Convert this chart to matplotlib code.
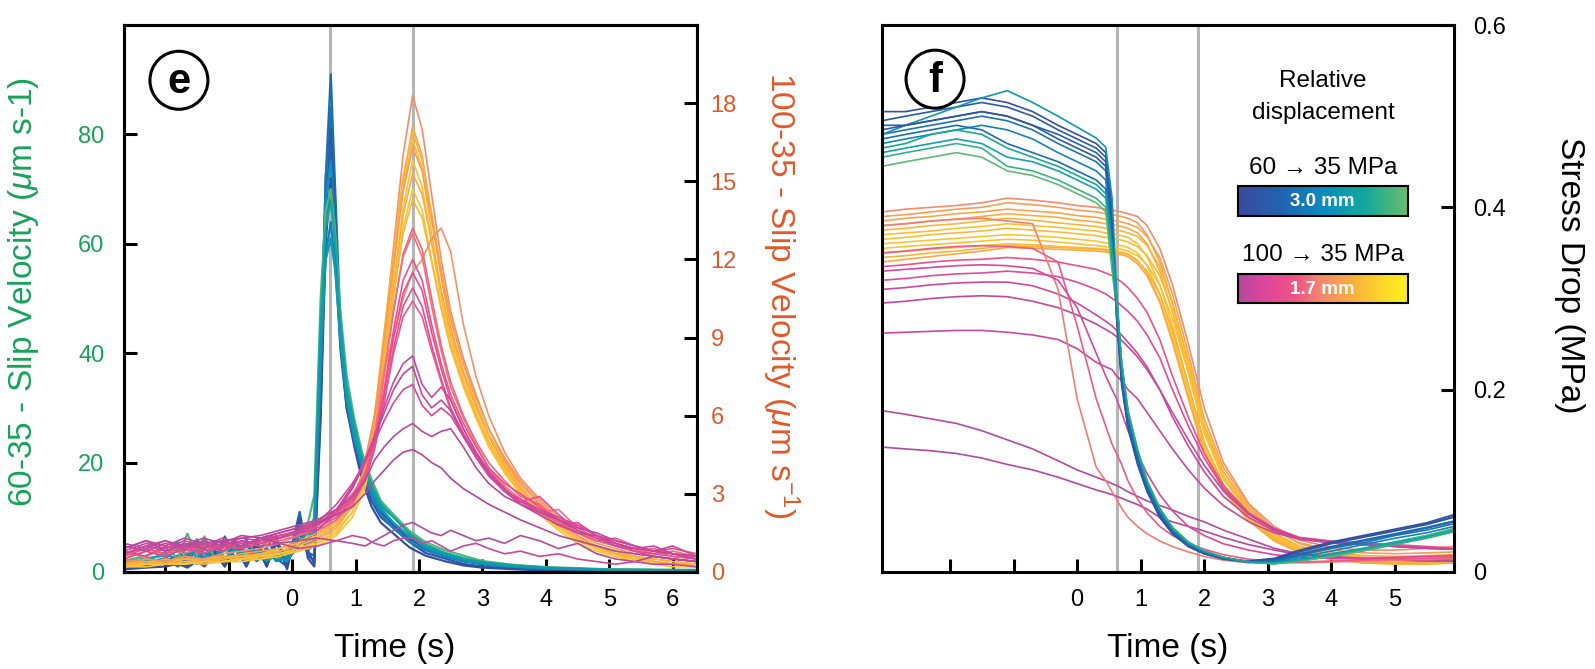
import numpy as np
import matplotlib
matplotlib.use('Agg')
import matplotlib.pyplot as plt
from matplotlib.colors import LinearSegmentedColormap
from matplotlib.patches import Ellipse

plt.rcParams['font.family'] = ['Liberation Sans', 'DejaVu Sans']
plt.rcParams['mathtext.fontset'] = 'custom'
plt.rcParams['mathtext.rm'] = 'Liberation Sans'
plt.rcParams['mathtext.it'] = 'Liberation Sans:italic'

# ===== colour scales (relative displacement) =====
cmap_bg = LinearSegmentedColormap.from_list(
    'bg', ['#3a4a9e', '#2264b0', '#0a8cc0', '#14a99b', '#6bbf68'])
cmap_py = LinearSegmentedColormap.from_list(
    'py', ['#b3489e', '#e0479b', '#ef5485', '#f58c6c', '#fbae3c', '#fdd52a', '#fff21c'])

# ===== panel e: 60 -> 35 MPa slip velocity (um/s, left axis) =====
t60 = [-2.65, -2.3, -2.0, -1.8, -1.65, -1.5, -1.38, -1.22, -1.06, -0.9, -0.72, -0.56, -0.4,
       -0.25, -0.08, 0.12, 0.25, 0.35, 0.45, 0.53, 0.61, 0.68, 0.76, 0.86, 0.98, 1.1, 1.25,
       1.4, 1.6, 1.85, 2.1, 2.4, 2.7, 3.0, 3.5, 4.0, 5.0, 6.38]
vel60 = [
    [1.0, 1.5, 2.0, 1.5, 3.0, 1.5, 3.5, 2.0, 6.5, 2.5, 6.0, 2.0, 6.5, 2.5, 1.0, 11.0, 3.0, 2.0, 35, 72, 91, 70, 46, 33, 26, 20, 15, 11.5, 9.0, 6.0, 4.5, 3.2, 2.2, 1.6, 1.0, 0.6, 0.4, 0.3],
    [0.8, 1.2, 2.5, 1.0, 2.5, 4.0, 2.0, 5.5, 2.0, 5.0, 1.5, 5.5, 2.0, 5.0, 3.0, 8.0, 5.0, 6.0, 40, 72, 85, 66, 44, 32, 24, 19, 14, 10.5, 8.5, 6.5, 4.0, 3.5, 2.0, 1.5, 1.0, 0.7, 0.3, 0.2],
    [1.2, 1.0, 1.5, 2.0, 1.0, 3.0, 1.5, 4.0, 1.0, 5.5, 1.0, 6.0, 1.5, 6.5, 1.0, 9.0, 4.0, 1.5, 30, 65, 81, 64, 42, 31, 25, 18, 13, 10, 8.0, 5.5, 3.5, 2.5, 1.5, 1.0, 0.6, 0.3, 0.2, 0.2],
    [0.6, 1.0, 2.0, 3.0, 1.5, 4.5, 2.0, 4.0, 1.5, 6.0, 2.0, 5.0, 1.0, 5.5, 2.0, 7.0, 3.5, 3.0, 38, 66, 78, 62, 43, 30, 24, 20, 15, 11, 8.5, 6.0, 4.5, 3.0, 2.0, 1.5, 0.8, 0.5, 0.3, 0.2],
    [1.5, 2.0, 3.5, 2.0, 5.0, 2.5, 6.0, 3.0, 5.0, 2.0, 4.0, 2.5, 4.0, 2.0, 3.0, 6.0, 5.0, 8.0, 45, 68, 75, 62, 45, 33, 26, 21, 16, 12, 10, 7.0, 5.0, 3.5, 2.5, 1.8, 1.2, 0.8, 0.4, 0.3],
    [0.5, 0.8, 1.0, 1.5, 0.8, 2.0, 1.0, 3.5, 1.0, 4.5, 1.0, 5.0, 1.0, 6.0, 0.5, 10.0, 2.5, 1.0, 28, 60, 72, 60, 41, 30, 23, 17, 12, 9.0, 7.0, 4.5, 3.0, 2.0, 1.2, 0.8, 0.5, 0.3, 0.2, 0.2],
    [2.0, 3.0, 4.5, 2.5, 7.0, 3.0, 6.5, 2.5, 4.0, 2.0, 3.5, 2.0, 3.0, 2.5, 4.0, 7.0, 9.0, 14, 50, 66, 70, 62, 48, 36, 28, 22, 17, 13, 10.5, 7.5, 5.5, 4.0, 3.0, 2.0, 1.3, 0.9, 0.5, 0.4],
    [1.8, 2.5, 3.0, 5.5, 2.5, 6.0, 2.0, 5.0, 2.0, 4.0, 2.5, 3.5, 2.0, 3.5, 3.0, 6.0, 7.0, 10, 46, 63, 68, 60, 46, 34, 27, 21, 16, 12.5, 10, 7.0, 5.0, 3.5, 2.5, 1.8, 1.2, 0.8, 0.4, 0.3],
    [1.0, 1.5, 2.5, 1.5, 3.5, 1.5, 4.5, 2.0, 5.5, 2.0, 5.0, 2.0, 4.5, 2.0, 2.5, 8.0, 4.0, 5.0, 36, 58, 64, 56, 42, 31, 24, 19, 14, 10.5, 8.0, 5.5, 4.0, 2.8, 2.0, 1.4, 0.9, 0.6, 0.3, 0.2],
    [1.2, 1.8, 2.5, 4.0, 2.0, 5.0, 2.5, 5.5, 2.5, 4.5, 2.0, 4.0, 2.0, 3.0, 2.0, 5.0, 6.0, 9.0, 42, 57, 61, 55, 43, 32, 25, 20, 15, 11.5, 9.0, 6.5, 4.5, 3.2, 2.3, 1.6, 1.0, 0.7, 0.4, 0.3],
]
col60 = [0.3, 0.35, 0.1, 0.2, 0.55, 0.05, 0.92, 0.72, 0.45, 0.62]

# ===== panel e: 100 -> 35 MPa slip velocity (um/s, right axis) =====
t100 = [-2.65, -2.3, -2.0, -1.7, -1.4, -1.1, -0.8, -0.5, -0.2, 0.1, 0.4, 0.7, 0.95, 1.15,
        1.3, 1.45, 1.6, 1.75, 1.9, 2.05, 2.2, 2.35, 2.5, 2.7, 2.9, 3.1, 3.35, 3.6, 3.9, 4.2,
        4.5, 4.8, 5.1, 5.4, 5.7, 6.0, 6.38]
vel100 = [
    [0.3, 0.4, 0.3, 0.5, 0.4, 0.5, 0.6, 0.6, 0.8, 1.0, 1.3, 1.8, 2.6, 3.8, 5.8, 9.0, 12.5, 16.0, 18.3, 17.0, 14.5, 12.0, 10.0, 8.2, 6.8, 5.5, 4.3, 3.4, 2.6, 1.9, 1.4, 1.0, 0.8, 0.6, 0.5, 0.4, 0.3],
    [0.2, 0.3, 0.4, 0.3, 0.5, 0.4, 0.5, 0.7, 0.7, 0.9, 1.2, 1.7, 2.5, 3.6, 5.5, 8.5, 11.8, 15.0, 17.1, 16.0, 13.6, 11.3, 9.4, 7.7, 6.4, 5.2, 4.1, 3.2, 2.5, 1.8, 1.3, 1.0, 0.7, 0.5, 0.4, 0.3, 0.2],
    [0.4, 0.3, 0.5, 0.4, 0.4, 0.6, 0.5, 0.6, 0.9, 1.1, 1.4, 2.0, 2.8, 4.0, 6.0, 9.2, 12.3, 15.2, 16.9, 15.8, 13.8, 11.6, 9.8, 8.0, 6.5, 5.3, 4.2, 3.3, 2.4, 1.8, 1.3, 0.9, 0.7, 0.6, 0.4, 0.3, 0.3],
    [0.2, 0.3, 0.3, 0.4, 0.3, 0.4, 0.5, 0.5, 0.7, 0.8, 1.1, 1.5, 2.3, 3.4, 5.2, 8.3, 11.6, 14.8, 16.6, 15.5, 13.0, 10.8, 9.0, 7.4, 6.1, 5.0, 3.9, 3.0, 2.3, 1.7, 1.2, 0.9, 0.6, 0.5, 0.4, 0.3, 0.2],
    [0.3, 0.5, 0.4, 0.6, 0.5, 0.5, 0.7, 0.8, 0.9, 1.2, 1.5, 2.0, 2.8, 4.0, 6.0, 8.9, 11.8, 14.6, 16.3, 15.4, 13.5, 11.5, 9.7, 8.0, 6.7, 5.5, 4.4, 3.5, 2.7, 2.0, 1.5, 1.1, 0.9, 0.7, 0.6, 0.5, 0.4],
    [0.2, 0.2, 0.3, 0.3, 0.4, 0.4, 0.4, 0.5, 0.6, 0.8, 1.0, 1.4, 2.1, 3.2, 5.0, 7.8, 11.0, 14.0, 15.8, 14.8, 12.6, 10.5, 8.8, 7.2, 6.0, 4.9, 3.8, 3.0, 2.2, 1.6, 1.1, 0.8, 0.6, 0.4, 0.3, 0.2, 0.2],
    [0.3, 0.3, 0.4, 0.5, 0.4, 0.5, 0.6, 0.6, 0.8, 1.0, 1.3, 1.8, 2.5, 3.6, 5.4, 8.2, 11.0, 13.7, 15.3, 14.5, 12.7, 10.8, 9.2, 7.6, 6.3, 5.2, 4.1, 3.2, 2.5, 1.8, 1.3, 1.0, 0.7, 0.6, 0.4, 0.3, 0.3],
    [0.2, 0.3, 0.3, 0.3, 0.4, 0.4, 0.5, 0.6, 0.7, 0.9, 1.1, 1.6, 2.3, 3.4, 5.2, 7.9, 10.6, 13.2, 14.7, 13.9, 12.0, 10.2, 8.6, 7.1, 5.9, 4.8, 3.8, 3.0, 2.3, 1.7, 1.2, 0.9, 0.6, 0.5, 0.3, 0.3, 0.2],
    [0.3, 0.4, 0.4, 0.5, 0.5, 0.6, 0.6, 0.7, 0.9, 1.1, 1.4, 1.9, 2.6, 3.7, 5.5, 8.0, 10.6, 13.0, 14.3, 13.6, 11.9, 10.1, 8.6, 7.2, 6.0, 5.0, 4.0, 3.1, 2.4, 1.8, 1.3, 1.0, 0.8, 0.6, 0.5, 0.4, 0.3],
    [0.4, 0.5, 0.4, 0.6, 0.5, 0.7, 0.8, 0.9, 1.1, 1.4, 1.8, 2.4, 3.2, 4.3, 6.0, 7.8, 9.0, 10.5, 11.5, 12.0, 12.8, 13.2, 12.3, 9.5, 7.5, 6.0, 4.6, 3.6, 2.8, 2.1, 1.6, 1.2, 1.0, 0.8, 0.6, 0.5, 0.4],
    [0.5, 0.8, 0.6, 0.9, 0.7, 1.0, 0.9, 1.1, 1.2, 1.4, 1.6, 2.0, 2.6, 3.5, 5.0, 7.5, 10.0, 12.2, 13.2, 12.4, 10.5, 8.7, 7.3, 6.0, 5.0, 4.2, 3.5, 2.9, 2.6, 2.0, 1.5, 1.2, 1.0, 0.8, 0.9, 0.7, 0.5],
    [0.7, 0.6, 0.9, 0.7, 1.0, 0.8, 1.1, 1.0, 1.3, 1.5, 1.8, 2.2, 2.9, 3.8, 5.3, 7.6, 10.1, 12.1, 13.0, 12.1, 10.2, 8.5, 7.1, 5.9, 4.9, 4.0, 3.3, 2.8, 2.3, 2.4, 1.7, 1.3, 1.0, 0.9, 0.7, 0.8, 0.6],
    [0.6, 0.9, 0.7, 1.0, 0.8, 1.1, 1.0, 1.2, 1.4, 1.6, 1.9, 2.3, 2.9, 3.7, 5.0, 7.0, 9.3, 11.2, 12.0, 11.2, 9.5, 8.0, 6.8, 5.7, 4.8, 4.0, 3.4, 3.0, 2.5, 2.0, 1.8, 1.4, 1.1, 0.9, 0.8, 0.9, 0.7],
    [0.8, 0.6, 1.0, 0.8, 1.1, 0.9, 1.2, 1.1, 1.3, 1.5, 1.8, 2.2, 2.8, 3.6, 4.9, 6.8, 9.0, 10.7, 11.5, 10.8, 9.2, 7.8, 6.6, 5.5, 4.6, 3.8, 3.2, 2.7, 2.9, 2.2, 1.6, 1.3, 1.1, 0.8, 0.7, 0.6, 0.5],
    [0.5, 0.8, 0.6, 0.9, 0.7, 1.0, 0.9, 1.1, 1.3, 1.5, 1.7, 2.1, 2.7, 3.5, 4.7, 6.5, 8.6, 10.2, 10.9, 10.2, 8.7, 7.4, 6.3, 5.3, 4.4, 3.7, 3.1, 2.6, 2.2, 1.8, 1.9, 1.4, 1.0, 0.8, 0.6, 0.5, 0.4],
    [0.7, 0.9, 0.7, 1.1, 0.9, 1.2, 1.0, 1.3, 1.5, 1.7, 2.0, 2.4, 3.0, 3.7, 4.8, 6.5, 8.4, 9.8, 10.4, 9.8, 8.5, 7.3, 6.2, 5.2, 4.4, 3.7, 3.1, 2.7, 2.3, 1.9, 1.5, 1.2, 1.3, 1.0, 0.8, 0.6, 0.5],
    [0.8, 1.1, 0.9, 1.2, 1.0, 1.3, 1.1, 1.2, 1.4, 1.5, 1.6, 2.3, 3.2, 4.2, 5.2, 6.3, 7.3, 8.0, 8.3, 7.2, 6.7, 7.1, 6.6, 5.5, 4.6, 3.9, 3.2, 2.7, 2.4, 2.0, 1.6, 1.3, 1.0, 0.9, 0.8, 1.0, 0.6],
    [1.0, 0.8, 1.1, 0.9, 1.2, 1.0, 1.3, 1.2, 1.3, 1.6, 1.8, 2.4, 3.3, 4.3, 5.2, 6.1, 7.0, 7.6, 7.9, 6.8, 6.3, 6.6, 6.2, 5.3, 4.5, 3.8, 3.1, 2.6, 2.2, 1.8, 1.5, 1.4, 1.1, 0.9, 1.0, 0.7, 0.5],
    [0.7, 1.0, 0.8, 1.1, 0.9, 1.2, 1.0, 1.3, 1.4, 1.5, 1.9, 2.6, 3.4, 4.2, 5.0, 5.8, 6.5, 7.0, 7.2, 6.4, 6.0, 6.3, 6.0, 5.2, 4.4, 3.7, 3.1, 2.8, 2.4, 2.1, 1.8, 1.4, 1.2, 1.0, 0.8, 0.7, 0.6],
    [0.9, 1.2, 1.0, 1.3, 1.1, 1.2, 1.3, 1.4, 1.6, 1.8, 2.0, 2.4, 2.9, 3.5, 4.3, 4.8, 5.2, 5.5, 5.7, 5.4, 5.2, 5.4, 5.5, 4.8, 4.0, 3.4, 2.9, 2.6, 2.3, 2.0, 1.7, 1.5, 1.2, 1.0, 0.8, 0.7, 0.6],
    [1.1, 0.9, 1.2, 1.0, 1.3, 1.1, 1.4, 1.3, 1.5, 1.7, 1.9, 2.2, 2.5, 3.0, 3.5, 3.9, 4.3, 4.6, 4.7, 4.5, 4.2, 4.0, 3.6, 3.2, 2.9, 2.6, 2.3, 2.0, 1.7, 1.4, 1.2, 1.0, 0.8, 0.7, 0.6, 0.5, 0.4],
    [0.9, 1.2, 0.8, 1.1, 0.9, 1.2, 1.0, 1.3, 1.1, 1.2, 1.3, 1.2, 1.1, 1.0, 1.2, 1.4, 1.6, 1.8, 1.9, 1.7, 1.5, 1.4, 1.6, 1.4, 1.2, 1.3, 1.1, 1.4, 1.2, 0.9, 1.1, 0.7, 0.5, 0.4, 0.6, 0.5, 0.4],
    [0.7, 1.0, 1.2, 0.9, 1.1, 0.8, 1.2, 1.0, 1.1, 0.9, 1.0, 1.2, 1.4, 1.3, 1.1, 1.0, 1.2, 1.3, 1.3, 1.1, 1.2, 1.0, 0.8, 1.0, 1.1, 0.9, 0.7, 0.8, 0.6, 0.7, 0.5, 0.4, 0.3, 0.4, 0.3, 0.3, 0.2],
]
col100 = [0.5, 0.62, 0.68, 0.72, 0.58, 0.75, 0.66, 0.76, 0.7, 0.52, 0.38, 0.42, 0.3, 0.26,
          0.22, 0.34, 0.1, 0.06, 0.14, 0.04, 0.0, 0.02, 0.08]

# ===== panel f: stress drop (MPa) =====
tsd = [-3.07, -2.7, -2.3, -1.9, -1.5, -1.1, -0.7, -0.3, 0.0, 0.3, 0.45, 0.55, 0.62, 0.7, 0.8,
       0.95, 1.1, 1.3, 1.5, 1.75, 2.0, 2.3, 2.7, 3.1, 3.5, 4.0, 4.5, 5.0, 5.5, 5.93]
sd60 = [
    [0.505, 0.505, 0.51, 0.515, 0.52, 0.515, 0.505, 0.49, 0.48, 0.47, 0.46, 0.40, 0.29, 0.21, 0.16, 0.12, 0.09, 0.062, 0.043, 0.028, 0.02, 0.015, 0.012, 0.015, 0.024, 0.033, 0.04, 0.047, 0.054, 0.063],
    [0.495, 0.50, 0.505, 0.51, 0.515, 0.51, 0.50, 0.485, 0.475, 0.465, 0.455, 0.39, 0.28, 0.21, 0.16, 0.12, 0.09, 0.06, 0.042, 0.028, 0.02, 0.015, 0.011, 0.013, 0.022, 0.031, 0.038, 0.045, 0.052, 0.06],
    [0.49, 0.49, 0.495, 0.50, 0.505, 0.50, 0.49, 0.48, 0.47, 0.46, 0.45, 0.38, 0.29, 0.215, 0.165, 0.125, 0.093, 0.064, 0.045, 0.03, 0.021, 0.015, 0.011, 0.012, 0.02, 0.028, 0.035, 0.042, 0.049, 0.056],
    [0.48, 0.485, 0.49, 0.495, 0.50, 0.495, 0.485, 0.47, 0.46, 0.45, 0.44, 0.37, 0.30, 0.22, 0.17, 0.128, 0.095, 0.066, 0.046, 0.031, 0.022, 0.016, 0.011, 0.011, 0.018, 0.026, 0.032, 0.04, 0.046, 0.053],
    [0.48, 0.49, 0.50, 0.51, 0.52, 0.528, 0.515, 0.50, 0.488, 0.476, 0.466, 0.41, 0.31, 0.225, 0.172, 0.13, 0.097, 0.067, 0.047, 0.031, 0.022, 0.016, 0.011, 0.01, 0.014, 0.02, 0.026, 0.033, 0.04, 0.047],
    [0.485, 0.49, 0.495, 0.50, 0.505, 0.50, 0.49, 0.475, 0.465, 0.455, 0.445, 0.38, 0.28, 0.205, 0.158, 0.118, 0.088, 0.06, 0.042, 0.028, 0.02, 0.014, 0.011, 0.014, 0.023, 0.032, 0.039, 0.046, 0.053, 0.061],
    [0.47, 0.475, 0.48, 0.485, 0.49, 0.485, 0.475, 0.46, 0.45, 0.44, 0.43, 0.36, 0.30, 0.225, 0.172, 0.13, 0.097, 0.067, 0.047, 0.031, 0.022, 0.016, 0.011, 0.01, 0.016, 0.023, 0.03, 0.037, 0.043, 0.05],
    [0.46, 0.465, 0.47, 0.475, 0.47, 0.455, 0.45, 0.44, 0.43, 0.42, 0.41, 0.35, 0.30, 0.23, 0.175, 0.133, 0.1, 0.069, 0.048, 0.032, 0.023, 0.016, 0.011, 0.009, 0.013, 0.018, 0.024, 0.031, 0.038, 0.045],
    [0.455, 0.46, 0.465, 0.47, 0.465, 0.445, 0.44, 0.43, 0.42, 0.41, 0.40, 0.34, 0.30, 0.23, 0.178, 0.135, 0.1, 0.07, 0.049, 0.033, 0.023, 0.016, 0.011, 0.009, 0.012, 0.017, 0.023, 0.03, 0.037, 0.044],
    [0.445, 0.45, 0.455, 0.46, 0.455, 0.44, 0.435, 0.425, 0.415, 0.405, 0.395, 0.33, 0.29, 0.228, 0.176, 0.134, 0.1, 0.07, 0.049, 0.033, 0.023, 0.016, 0.011, 0.009, 0.012, 0.017, 0.024, 0.032, 0.04, 0.048],
    [0.475, 0.48, 0.485, 0.49, 0.485, 0.47, 0.46, 0.45, 0.44, 0.43, 0.42, 0.35, 0.29, 0.218, 0.168, 0.127, 0.094, 0.065, 0.045, 0.03, 0.021, 0.015, 0.011, 0.012, 0.019, 0.027, 0.034, 0.041, 0.048, 0.055],
    [0.465, 0.47, 0.48, 0.485, 0.48, 0.465, 0.455, 0.445, 0.435, 0.425, 0.415, 0.35, 0.30, 0.228, 0.175, 0.133, 0.099, 0.069, 0.048, 0.032, 0.023, 0.016, 0.011, 0.01, 0.013, 0.019, 0.025, 0.032, 0.039, 0.046],
]
colsd60 = [0.05, 0.15, 0.25, 0.35, 0.6, 0.1, 0.45, 0.7, 0.85, 0.95, 0.3, 0.75]

sd100 = [
    [0.395, 0.398, 0.40, 0.402, 0.405, 0.41, 0.408, 0.405, 0.402, 0.40, 0.398, 0.397, 0.396, 0.395, 0.393, 0.39, 0.38, 0.355, 0.315, 0.25, 0.18, 0.12, 0.075, 0.05, 0.035, 0.027, 0.024, 0.024, 0.026, 0.028],
    [0.39, 0.392, 0.395, 0.398, 0.40, 0.405, 0.403, 0.40, 0.397, 0.395, 0.393, 0.392, 0.391, 0.39, 0.388, 0.383, 0.37, 0.34, 0.295, 0.23, 0.16, 0.11, 0.07, 0.046, 0.032, 0.024, 0.021, 0.02, 0.021, 0.022],
    [0.385, 0.388, 0.39, 0.393, 0.395, 0.398, 0.396, 0.394, 0.391, 0.389, 0.387, 0.386, 0.385, 0.384, 0.382, 0.378, 0.368, 0.345, 0.305, 0.24, 0.168, 0.115, 0.073, 0.047, 0.031, 0.022, 0.018, 0.017, 0.018, 0.019],
    [0.38, 0.382, 0.385, 0.387, 0.39, 0.393, 0.391, 0.389, 0.386, 0.384, 0.382, 0.381, 0.38, 0.379, 0.377, 0.372, 0.36, 0.33, 0.285, 0.22, 0.155, 0.105, 0.066, 0.042, 0.028, 0.02, 0.016, 0.015, 0.016, 0.017],
    [0.375, 0.377, 0.38, 0.382, 0.385, 0.388, 0.386, 0.383, 0.381, 0.379, 0.377, 0.376, 0.375, 0.374, 0.372, 0.368, 0.358, 0.335, 0.295, 0.232, 0.162, 0.11, 0.068, 0.043, 0.028, 0.019, 0.015, 0.014, 0.014, 0.015],
    [0.37, 0.372, 0.374, 0.377, 0.379, 0.382, 0.38, 0.378, 0.376, 0.374, 0.372, 0.371, 0.37, 0.369, 0.367, 0.36, 0.346, 0.315, 0.27, 0.205, 0.142, 0.096, 0.06, 0.038, 0.025, 0.017, 0.013, 0.012, 0.012, 0.013],
    [0.365, 0.367, 0.37, 0.372, 0.374, 0.377, 0.375, 0.373, 0.371, 0.369, 0.367, 0.366, 0.365, 0.364, 0.362, 0.357, 0.347, 0.325, 0.287, 0.225, 0.157, 0.105, 0.066, 0.041, 0.026, 0.017, 0.012, 0.011, 0.011, 0.012],
    [0.36, 0.362, 0.364, 0.366, 0.368, 0.37, 0.369, 0.367, 0.365, 0.363, 0.361, 0.36, 0.359, 0.358, 0.356, 0.35, 0.336, 0.305, 0.26, 0.198, 0.137, 0.092, 0.058, 0.036, 0.023, 0.015, 0.011, 0.01, 0.01, 0.011],
    [0.355, 0.357, 0.359, 0.361, 0.363, 0.365, 0.364, 0.362, 0.36, 0.358, 0.357, 0.356, 0.355, 0.354, 0.352, 0.347, 0.337, 0.315, 0.278, 0.218, 0.152, 0.102, 0.064, 0.039, 0.024, 0.015, 0.01, 0.009, 0.009, 0.01],
    [0.35, 0.352, 0.354, 0.356, 0.358, 0.36, 0.359, 0.357, 0.356, 0.355, 0.354, 0.353, 0.352, 0.351, 0.349, 0.342, 0.328, 0.298, 0.254, 0.193, 0.133, 0.09, 0.057, 0.035, 0.022, 0.014, 0.01, 0.009, 0.009, 0.01],
    [0.345, 0.347, 0.35, 0.352, 0.355, 0.358, 0.357, 0.356, 0.355, 0.354, 0.353, 0.352, 0.351, 0.35, 0.348, 0.341, 0.33, 0.305, 0.265, 0.205, 0.142, 0.096, 0.06, 0.037, 0.023, 0.015, 0.011, 0.01, 0.01, 0.011],
    [0.34, 0.343, 0.346, 0.349, 0.352, 0.356, 0.355, 0.354, 0.353, 0.352, 0.351, 0.35, 0.349, 0.348, 0.346, 0.338, 0.325, 0.296, 0.252, 0.19, 0.131, 0.089, 0.056, 0.034, 0.021, 0.014, 0.01, 0.009, 0.009, 0.01],
    [0.335, 0.337, 0.34, 0.342, 0.343, 0.345, 0.343, 0.34, 0.336, 0.332, 0.328, 0.325, 0.322, 0.318, 0.312, 0.30, 0.285, 0.255, 0.215, 0.17, 0.13, 0.095, 0.065, 0.048, 0.038, 0.034, 0.032, 0.03, 0.028, 0.026],
    [0.32, 0.322, 0.325, 0.327, 0.328, 0.33, 0.328, 0.324, 0.318, 0.31, 0.305, 0.30, 0.297, 0.292, 0.286, 0.275, 0.26, 0.235, 0.20, 0.16, 0.125, 0.092, 0.064, 0.047, 0.037, 0.033, 0.031, 0.029, 0.027, 0.025],
    [0.31, 0.312, 0.315, 0.317, 0.318, 0.318, 0.314, 0.305, 0.295, 0.282, 0.275, 0.27, 0.265, 0.26, 0.252, 0.24, 0.225, 0.20, 0.17, 0.138, 0.11, 0.083, 0.06, 0.045, 0.036, 0.032, 0.03, 0.028, 0.026, 0.025],
    [0.295, 0.297, 0.30, 0.302, 0.303, 0.302, 0.297, 0.29, 0.282, 0.272, 0.266, 0.262, 0.258, 0.254, 0.247, 0.236, 0.222, 0.20, 0.175, 0.145, 0.117, 0.089, 0.063, 0.047, 0.037, 0.033, 0.03, 0.028, 0.026, 0.025],
    [0.262, 0.263, 0.264, 0.265, 0.265, 0.263, 0.26, 0.255, 0.245, 0.23, 0.225, 0.222, 0.215, 0.21, 0.20, 0.19, 0.175, 0.155, 0.135, 0.112, 0.092, 0.073, 0.055, 0.043, 0.036, 0.032, 0.03, 0.028, 0.026, 0.025],
    [0.177, 0.173, 0.168, 0.163, 0.155, 0.145, 0.135, 0.122, 0.112, 0.104, 0.10, 0.097, 0.095, 0.092, 0.088, 0.083, 0.078, 0.073, 0.068, 0.061, 0.055, 0.046, 0.036, 0.026, 0.02, 0.017, 0.015, 0.014, 0.014, 0.013],
    [0.137, 0.135, 0.133, 0.13, 0.125, 0.118, 0.112, 0.104, 0.097, 0.09, 0.087, 0.085, 0.083, 0.081, 0.078, 0.074, 0.069, 0.06, 0.055, 0.05, 0.045, 0.038, 0.03, 0.024, 0.019, 0.016, 0.014, 0.013, 0.012, 0.012],
    [0.38, 0.382, 0.385, 0.387, 0.388, 0.385, 0.382, 0.31, 0.19, 0.115, 0.10, 0.088, 0.08, 0.07, 0.06, 0.05, 0.042, 0.034, 0.028, 0.022, 0.017, 0.013, 0.01, 0.01, 0.01, 0.011, 0.012, 0.013, 0.014, 0.015],
    [0.35, 0.352, 0.355, 0.357, 0.358, 0.357, 0.355, 0.34, 0.27, 0.19, 0.16, 0.14, 0.13, 0.118, 0.10, 0.08, 0.065, 0.05, 0.04, 0.031, 0.025, 0.019, 0.014, 0.012, 0.011, 0.012, 0.013, 0.014, 0.015, 0.016],
    [0.33, 0.332, 0.334, 0.336, 0.337, 0.336, 0.333, 0.32, 0.29, 0.24, 0.215, 0.20, 0.19, 0.175, 0.155, 0.13, 0.108, 0.085, 0.067, 0.05, 0.04, 0.031, 0.024, 0.019, 0.016, 0.015, 0.015, 0.016, 0.017, 0.018],
]
colsd100 = [0.5, 0.58, 0.62, 0.66, 0.7, 0.74, 0.72, 0.76, 0.75, 0.73, 0.68, 0.64,
            0.3, 0.2, 0.1, 0.05, 0.08, 0.02, 0.0, 0.45, 0.35, 0.15]

green = '#17a25a'
orange = '#e1592b'
gray = '#b5b5b5'

fig = plt.figure(figsize=(15.95, 6.69), dpi=100)


def style_axes(ax):
    for s in ax.spines.values():
        s.set_linewidth(2.2)
    ax.tick_params(direction='in', length=9.5, width=2.2, labelsize=17)


# ===== panel e =====
axL = fig.add_axes([0.0777, 0.145, 0.3592, 0.8176])
axL2 = axL.twinx()
for v in (0.6, 1.9):
    axL.axvline(v, color=gray, lw=2.2, zorder=0)
for vals, c in zip(vel60, col60):
    axL.plot(t60, vals, color=cmap_bg(c), lw=1.6)
for vals, c in zip(vel100, col100):
    axL2.plot(t100, vals, color=cmap_py(c), lw=1.2)

axL.set_xlim(-2.65, 6.38)
axL.set_ylim(0, 100)
axL2.set_ylim(0, 21)
axL.set_xticks(range(-2, 7))
axL.set_xticklabels(['', ''] + [str(i) for i in range(0, 7)])
axL.set_yticks([0, 20, 40, 60, 80])
axL2.set_yticks([0, 3, 6, 9, 12, 15, 18])
style_axes(axL)
style_axes(axL2)
axL.tick_params(axis='x', pad=12)
axL.tick_params(axis='y', pad=14, labelcolor=green)
axL2.tick_params(axis='y', pad=10, labelcolor=orange)

fig.text(395 / 1595, 1 - 648 / 669, 'Time (s)', fontsize=24, ha='center', va='center')
fig.text(24 / 1595, 1 - 292 / 669, r'60-35 - Slip Velocity ($\mu$m s-1)', color=green,
         fontsize=24, rotation=90, ha='center', va='center')
fig.text(781 / 1595, 1 - 295 / 669, r'100-35 - Slip Velocity ($\mu$m s$^{-1}$)', color=orange,
         fontsize=24, rotation=270, ha='center', va='center')

# ===== panel f =====
axR = fig.add_axes([0.553, 0.145, 0.3586, 0.8176])
for v in (0.63, 1.9):
    axR.axvline(v, color=gray, lw=2.2, zorder=0)
for vals, c in zip(sd100, colsd100):
    axR.plot(tsd, vals, color=cmap_py(c), lw=1.2)
for vals, c in zip(sd60, colsd60):
    axR.plot(tsd, vals, color=cmap_bg(c), lw=1.2)

axR.set_xlim(-3.07, 5.93)
axR.set_ylim(0, 0.6)
axR.set_xticks(range(-2, 6))
axR.set_xticklabels(['', ''] + [str(i) for i in range(0, 6)])
axR.set_yticks([0, 0.2, 0.4, 0.6])
axR.set_yticklabels(['0', '0.2', '0.4', '0.6'])
axR.yaxis.tick_right()
style_axes(axR)
axR.tick_params(axis='x', pad=12)
axR.tick_params(axis='y', pad=14)

fig.text(1168 / 1595, 1 - 648 / 669, 'Time (s)', fontsize=24, ha='center', va='center')
fig.text(1570 / 1595, 1 - 275 / 669, 'Stress Drop (MPa)', fontsize=24, rotation=270,
         ha='center', va='center')

# ===== panel letters =====
for ax, (cx, cy), letter, w in [(axL, (0.096, 0.899), 'e', 573), (axR, (0.0927, 0.901), 'f', 572)]:
    ax.add_patch(Ellipse((cx, cy), 58 / w, 58 / 547, transform=ax.transAxes,
                         facecolor='white', edgecolor='black', lw=2.2, zorder=10))
    ax.text(cx, cy - 0.003, letter, transform=ax.transAxes, fontsize=30, fontweight='bold',
            ha='center', va='center', zorder=11)

# ===== legend (colour bars) =====
fig.text(0.8295, 1 - 81 / 669, 'Relative', fontsize=17.5, ha='center', va='center')
fig.text(0.8295, 1 - 113 / 669, 'displacement', fontsize=17.5, ha='center', va='center')
fig.text(0.8295, 1 - 168 / 669, '60 \u2192 35 MPa', fontsize=17.5, ha='center', va='center')
fig.text(0.8295, 1 - 255 / 669, '100 \u2192 35 MPa', fontsize=17.5, ha='center', va='center')

grad = np.linspace(0, 1, 256).reshape(1, -1)
for rect, cm, lab in [([0.776, 0.677, 0.1066, 0.0448], cmap_bg, '3.0 mm'),
                      ([0.776, 0.547, 0.1066, 0.0433], cmap_py, '1.7 mm')]:
    cax = fig.add_axes(rect)
    cax.imshow(grad, aspect='auto', cmap=cm)
    cax.set_xticks([])
    cax.set_yticks([])
    for s in cax.spines.values():
        s.set_linewidth(1.5)
    cax.text(0.5, 0.48, lab, transform=cax.transAxes, color='white', fontsize=13.5,
             fontweight='bold', ha='center', va='center')

fig.savefig('out.png', dpi=100)
